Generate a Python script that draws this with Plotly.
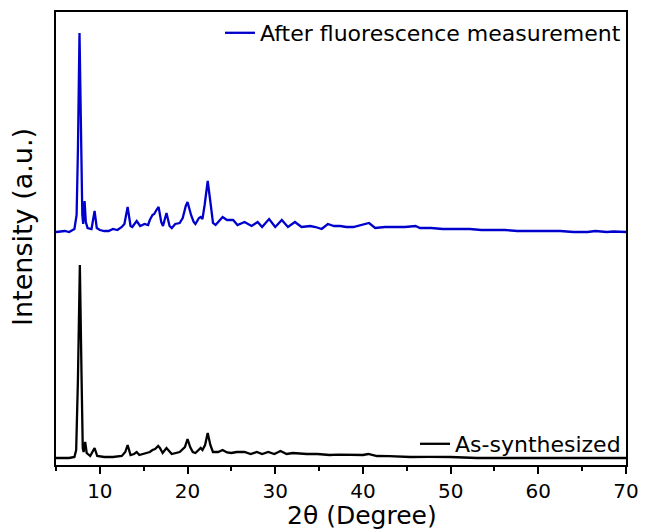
import plotly.graph_objects as go

# 2θ positions (degree) and intensities (a.u.) for the as-synthesized sample
two_theta_as = [5.0, 6.0, 6.5, 7.1, 7.3, 7.5, 7.72, 7.92, 8.05, 8.15, 8.33, 8.5, 8.9, 9.4, 9.7,
                10.5, 11.5, 12.5, 12.9, 13.17, 13.5, 13.9, 14.2, 14.5, 15.0, 15.2, 15.7, 16.0,
                16.3, 16.65, 16.85, 17.16, 17.6, 18.2, 18.7, 19.1, 19.7, 20.0, 20.3, 20.6, 20.9,
                21.5, 21.7, 22.0, 22.3, 22.6, 22.9, 23.5, 24.0, 24.5, 25.0, 25.6, 26.5, 27.2,
                27.9, 28.5, 29.2, 29.9, 30.6, 31.3, 32.0, 32.8, 33.6, 34.8, 35.5, 36.2, 37.2,
                38.0, 39.0, 40.0, 40.6, 41.6, 43.0, 45.4, 47.5, 50.0, 53.0, 56.0, 60.6, 65.0, 70.0]
intensity_as = [70, 72, 70, 80, 150, 850, 2000, 850, 170, 130, 230, 120, 90, 170, 90,
                80, 80, 90, 130, 200, 100, 110, 130, 100, 110, 120, 130, 150,
                160, 190, 170, 120, 170, 110, 125, 130, 180, 260, 180, 130, 120,
                170, 150, 200, 320, 200, 130, 130, 150, 125, 120, 130, 130, 110,
                130, 110, 130, 110, 140, 110, 120, 112, 110, 110, 105, 100, 103,
                100, 98, 100, 110, 90, 88, 80, 82, 80, 70, 72, 70, 70, 70]

# 2θ positions (degree) and intensities (a.u.) after the fluorescence measurement
two_theta_after = [5.0, 6.0, 6.5, 7.1, 7.35, 7.5, 7.68, 7.85, 8.0, 8.1, 8.26, 8.4, 8.6, 9.05,
                   9.4, 9.65, 10.0, 10.5, 11.0, 11.5, 12.0, 12.5, 12.8, 13.17, 13.5, 13.7,
                   14.2, 14.6, 15.1, 15.5, 15.7, 16.0, 16.2, 16.45, 16.7, 17.0, 17.2, 17.6,
                   17.95, 18.2, 18.6, 19.1, 19.45, 19.8, 20.0, 20.4, 20.7, 20.9, 21.3, 21.5,
                   21.7, 21.95, 22.3, 22.65, 22.9, 23.2, 23.55, 24.0, 24.5, 25.2, 25.7, 26.5,
                   27.3, 28.0, 28.5, 29.3, 30.0, 30.75, 31.45, 32.25, 33.0, 34.0, 34.6, 35.3,
                   36.0, 36.7, 37.4, 38.1, 38.9, 40.0, 40.7, 41.4, 42.5, 43.4, 44.8, 46.0,
                   46.5, 47.8, 49.1, 50.5, 52.2, 53.5, 54.9, 56.2, 57.6, 59.0, 60.6, 62.5,
                   64.0, 65.6, 66.5, 67.8, 68.6, 70.0]
intensity_after = [80, 90, 80, 110, 250, 900, 2070, 900, 250, 160, 390, 180, 120, 110,
                   290, 120, 100, 90, 90, 110, 100, 130, 160, 330, 140, 130,
                   190, 140, 160, 150, 200, 250, 260, 300, 330, 180, 140, 270,
                   140, 120, 160, 170, 220, 340, 380, 250, 180, 160, 220, 230,
                   210, 350, 590, 350, 170, 150, 190, 230, 200, 200, 150, 180,
                   140, 180, 130, 210, 130, 200, 130, 180, 130, 140, 130, 110,
                   160, 140, 140, 130, 130, 150, 170, 120, 130, 130, 130, 140,
                   120, 120, 110, 110, 110, 100, 100, 100, 90, 90, 90, 90,
                   80, 80, 90, 80, 85, 80]

# vertical offset used to stack the upper pattern above the lower one
stack_offset = 2250

x_ticks = [10, 20, 30, 40, 50, 60, 70]

FONT = "DejaVu Sans"

fig = go.Figure()

fig.add_trace(go.Scatter(
    x=two_theta_as, y=intensity_as, mode="lines",
    name="As-synthesized", legend="legend2",
    line=dict(color="#000000", width=2.3),
))
fig.add_trace(go.Scatter(
    x=two_theta_after, y=[v + stack_offset for v in intensity_after], mode="lines",
    name="After fluorescence measurement", legend="legend",
    line=dict(color="#0000CC", width=2.3),
))

fig.update_layout(
    width=646, height=531,
    margin=dict(l=56, r=20, t=12, b=66, autoexpand=False),
    paper_bgcolor="white", plot_bgcolor="white",
    font=dict(family=FONT, color="black"),
    showlegend=True,
    legend=dict(
        x=1.0, y=1.0, xanchor="right", yanchor="top",
        bgcolor="rgba(0,0,0,0)", borderwidth=0,
        font=dict(family=FONT, size=22, color="black"),
    ),
    legend2=dict(
        x=1.0, y=0.0, xanchor="right", yanchor="bottom",
        bgcolor="rgba(0,0,0,0)", borderwidth=0,
        font=dict(family=FONT, size=22, color="black"),
    ),
    xaxis=dict(
        range=[5, 70],
        automargin=False,
        tickvals=x_ticks,
        ticktext=[str(t) for t in x_ticks],
        ticks="outside", ticklen=7, tickwidth=1.5, tickcolor="black",
        minor=dict(dtick=5, tick0=5, ticks="outside", ticklen=4, tickwidth=1.5, tickcolor="black"),
        tickfont=dict(family=FONT, size=20, color="black"),
        showline=True, linecolor="black", linewidth=2, mirror=True,
        showgrid=False, zeroline=False,
    ),
    yaxis=dict(
        range=[0, 4530],
        automargin=False,
        showticklabels=False, ticks="",
        showline=True, linecolor="black", linewidth=2, mirror=True,
        showgrid=False, zeroline=False,
    ),
    annotations=[
        dict(text="2θ (Degree)", xref="paper", yref="paper", x=0.537, y=-0.112,
             xanchor="center", yanchor="middle", showarrow=False,
             font=dict(family=FONT, size=25, color="black")),
        dict(text="Intensity (a.u.)", xref="paper", yref="paper", x=-0.06, y=0.525,
             xanchor="center", yanchor="middle", textangle=-90, showarrow=False,
             font=dict(family=FONT, size=27, color="black")),
    ],
)

fig.write_html("out.html")
